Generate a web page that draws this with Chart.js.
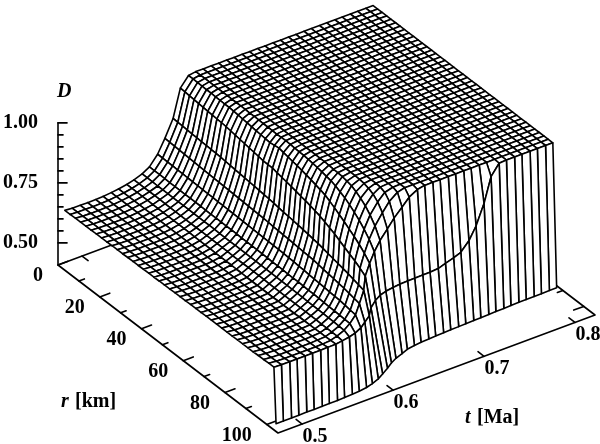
<!DOCTYPE html>
<html>
<head>
<meta charset="utf-8">
<script src="https://cdn.jsdelivr.net/npm/chart.js@4"></script>
<style>
html, body { margin: 0; padding: 0; background: #fff; }
canvas { display: block; }
</style>
</head>
<body>
<canvas id="surfaceChart" width="600" height="444"></canvas>
<script>
// Time of every grid column [Ma]
const times = [0.481,0.489,0.498,0.506,0.515,0.523,0.532,0.540,0.549,0.557,0.566,0.574,0.583,0.591,0.600,0.608,0.617,0.625,0.633,0.642,0.650,0.659,0.667,0.676,0.684,0.693,0.701,0.710,0.718,0.727,0.735,0.744,0.752,0.761,0.769,0.778,0.786,0.795,0.803,0.812,0.820];

// Radius where the outer wall meets the floor, one per column [km]
const baseRadius = [101.2,101.2,101.2,101.2,101.1,101.1,101.1,101,101,100.9,100.7,100.5,100.1,99.4,98.3,96.9,95.3,93.7,92.4,91.4,90.4,89.9,89.6,89.4,89.2,89.1,89,88.9,88.8,88.7,88.6,88.5,88.4,88.3,88.2,88.1,88.1,88,88,87.9,87.9];

// D x 1000, one row per radial shell (centre first). Columns past the end of a row sit on the plateau, D = 1
const surfaceD = [
[625,623,622,622,622,624,627,631,637,645,657,675,715,770,840,955,995],
[625,623,622,622,622,624,627,631,637,645,657,675,715,769,839,954,995],
[626,623,622,622,622,624,627,631,637,645,657,675,714,768,838,952,994],
[626,624,623,623,623,624,627,631,637,645,656,675,714,767,837,951,994],
[626,624,623,623,623,624,627,631,637,645,656,674,713,766,836,949,993],
[626,624,623,623,623,624,627,631,636,645,656,674,713,765,835,948,993],
[627,625,624,624,624,625,627,631,636,644,656,674,712,764,834,946,992],
[627,625,624,624,624,625,627,631,636,644,656,674,712,763,833,945,992],
[627,625,624,624,624,625,627,630,636,644,656,674,711,762,832,943,991],
[628,626,625,625,625,625,627,630,636,644,656,674,711,761,831,942,991],
[628,626,625,625,625,625,627,630,636,644,656,674,710,760,830,940,990],
[628,626,625,625,625,625,627,630,636,644,656,673,710,759,828,937,988],
[629,627,626,626,626,626,627,630,636,644,656,673,709,758,826,934,986,999],
[629,627,626,626,626,626,627,630,635,644,656,673,709,757,824,931,984,999],
[629,627,626,626,626,626,628,630,635,644,656,673,708,756,822,928,982,999],
[630,628,627,627,627,627,628,630,635,644,655,673,708,755,820,925,980,998],
[630,628,627,627,627,627,628,630,635,644,655,673,707,754,818,922,978,998],
[630,628,627,627,627,627,628,630,634,644,655,673,707,753,816,919,976,997],
[631,629,628,628,628,628,628,630,634,644,655,672,706,752,814,916,974,997],
[631,629,628,628,628,628,628,630,634,643,655,672,706,751,812,915,977,998],
[631,629,628,628,628,628,628,630,634,643,655,672,705,750,810,915,980,998],
[632,630,629,629,629,629,629,630,633,643,655,672,704,749,807,910,976,997],
[632,630,629,629,629,629,629,630,633,643,655,671,704,747,804,906,972,996],
[632,630,629,629,629,629,629,630,632,643,654,671,703,746,801,902,968,995],
[633,631,630,630,630,630,630,630,632,643,654,670,703,744,799,898,965,994],
[633,631,630,630,630,630,630,631,632,643,654,670,702,743,796,893,960,992],
[633,631,630,630,630,630,630,631,632,642,654,670,701,741,793,888,955,990],
[634,632,631,631,631,631,631,631,632,642,654,669,700,740,790,884,950,987],
[634,632,631,631,631,631,631,631,632,642,653,669,698,738,787,878,944,983,998],
[634,632,631,631,631,631,631,632,633,642,653,669,697,737,783,872,938,979,997],
[634,632,631,631,631,631,631,632,633,642,653,668,695,735,780,866,931,975,996],
[634,632,631,631,631,631,631,632,633,642,653,667,693,732,775,857,920,968,994],
[634,632,631,631,631,631,631,632,633,641,652,667,692,728,770,848,908,958,990],
[635,633,632,632,632,632,632,632,634,641,652,666,690,725,765,838,895,948,985,999],
[635,633,632,632,632,632,632,633,634,641,651,665,688,722,760,826,881,934,975,996],
[635,633,632,632,632,632,632,633,634,641,651,664,687,718,755,814,866,918,962,990],
[635,633,632,632,632,632,632,633,634,640,650,663,685,715,750,802,851,900,945,980,998],
[636,634,633,633,633,633,633,634,635,640,650,662,682,710,743,790,834,878,922,962,990,999],
[636,634,633,633,633,633,633,634,635,640,649,661,678,705,737,776,813,852,892,932,967,992],
[637,635,634,634,634,634,634,634,636,640,648,660,675,700,730,760,788,817,848,880,913,945,975,994],
[637,637,637,637,637,637,637,637,637,637,637,637,638,640,642,646,652,655,655,655,655,655,655,655,655,658,668,678,690,725,775,855,955,998]
];

const dTicks = [1,0.95,0.9,0.85,0.8,0.75,0.7,0.65,0.6,0.55,0.5];
const dLabels = [1,0.75,0.5];
const rTicks = [0,10,20,30,40,50,60,70,80,90,100];
const rLabels = [0,20,40,60,80,100];
const tLabels = [0.5,0.6,0.7,0.8];

// box of the plot and how it sits on the page
const rMax = 105.4, tMin = 0.4735, tMax = 0.822, dFloor = 0.408, dBase = 0.63, rStart = 100.4;

function project(r, t, d) {
    const f = (t - tMin) / (tMax - tMin);
    return {
        x: 58 + r * 220 / rMax + f * 317,
        y: 265 + r * 168 / rMax - f * 118 - (d - dFloor) * 240
    };
}

function dAt(i, j) {
    const v = surfaceD[i][j];
    return v === undefined ? 1 : v / 1000;
}

// shells keep their mass, so a denser shell takes less radius
function shellRadii(j) {
    const out = [0];
    let sum = 0;
    for (let k = 1; k < surfaceD.length; k++) {
        const dm = k * k * k - (k - 1) * (k - 1) * (k - 1);
        sum += dm * dBase / ((dAt(k - 1, j) + dAt(k, j)) / 2);
        out.push(rStart / (surfaceD.length - 1) * Math.cbrt(sum));
    }
    return out;
}

const drawList = [];
function addLine(points, opaque) {
    drawList.push({
        data: points,
        opaque: opaque,
        showLine: true,
        borderColor: '#000',
        borderWidth: 1.6,
        borderJoinStyle: 'round',
        borderCapStyle: 'round',
        // a dash longer than any segment keeps chart.js off its x-sorted fast path
        borderDash: [2000, 1],
        pointRadius: 0,
        clip: false
    });
}

// axes first, they stay behind the surface
addLine([project(0, tMin, dFloor), project(rMax, tMin, dFloor), project(rMax, tMax, dFloor), project(0, tMax, dFloor), project(0, tMin, dFloor)], false);
const axisFoot = project(0, tMin, dFloor);
addLine([axisFoot, project(0, tMin, 1)], false);
dTicks.forEach(d => {
    const p = project(0, tMin, d);
    addLine([p, { x: p.x + (dLabels.includes(d) ? 9 : 5), y: p.y }], false);
});
rTicks.forEach(r => {
    const major = r % 20 === 0;
    const a = project(r, tMin, dFloor);
    const b = project(r, tMax, dFloor);
    const dx = major ? 10 : 5.5, dy = major ? 3.7 : 2;
    addLine([a, { x: a.x + dx, y: a.y - dy }], false);
    addLine([b, { x: b.x - dx, y: b.y + dy }], false);
});
tLabels.forEach(t => {
    const a = project(rMax, t, dFloor);
    const b = project(0, t, dFloor);
    addLine([a, { x: a.x - 6, y: a.y - 4.6 }], false);
    addLine([b, { x: b.x + 6, y: b.y + 4.6 }], false);
});

// surface cells, farthest first (low r, high t)
const radii = times.map((t, j) => shellRadii(j));
const corner = (i, j) => project(radii[j][i], times[j], dAt(i, j));
for (let i = 0; i < surfaceD.length - 1; i++) {
    for (let j = times.length - 2; j >= 0; j--) {
        addLine([corner(i, j), corner(i, j + 1), corner(i + 1, j + 1), corner(i + 1, j), corner(i, j)], true);
    }
}

// outer wall down to the floor
const lastRow = surfaceD.length - 1;
for (let j = times.length - 2; j >= 0; j--) {
    const a = corner(lastRow, j), b = corner(lastRow, j + 1);
    const c = project(baseRadius[j + 1], times[j + 1], dFloor), e = project(baseRadius[j], times[j], dFloor);
    addLine([a, b, c, e, a], true);
}

// chart.js paints dataset 0 last
drawList.reverse();

// white-out behind each cell so it hides what lies behind it
const hiddenLine = {
    id: 'hiddenLine',
    beforeDatasetDraw(chart, args) {
        if (!chart.data.datasets[args.index].opaque) return;
        const pts = args.meta.data, ctx = chart.ctx;
        ctx.save();
        ctx.fillStyle = '#fff';
        ctx.beginPath();
        pts.forEach((p, n) => n ? ctx.lineTo(p.x, p.y) : ctx.moveTo(p.x, p.y));
        ctx.closePath();
        ctx.fill();
        ctx.restore();
    }
};

const numFont = 'bold 20px "Liberation Serif"';
const italicFont = 'italic bold 20px "Liberation Serif"';

const axisText = {
    id: 'axisText',
    afterDraw(chart) {
        const ctx = chart.ctx;
        const sx = chart.scales.x, sy = chart.scales.y;
        const put = (text, x, y, align, font) => {
            ctx.font = font || numFont;
            ctx.textAlign = align;
            ctx.textBaseline = 'middle';
            ctx.fillText(text, sx.getPixelForValue(x), sy.getPixelForValue(y));
        };
        ctx.save();
        ctx.fillStyle = '#000';
        dLabels.forEach(d => {
            const p = project(0, tMin, d);
            put(d.toFixed(2), p.x - 20, p.y, 'right');
        });
        rLabels.forEach(r => {
            const p = project(r, tMin, dFloor);
            put(String(r), p.x - 15, p.y + 11, 'right');
        });
        tLabels.forEach(t => {
            const p = project(rMax, t, dFloor);
            put(t.toFixed(1), p.x + 13, p.y + 12.5, 'center');
        });
        put('D', 57, 92, 'left', italicFont);
        put('r', 61, 402, 'left', italicFont);
        put('[km]', 75, 402, 'left');
        put('t', 465, 418, 'left', italicFont);
        put('[Ma]', 477, 418, 'left');
        ctx.restore();
    }
};

new Chart(document.getElementById('surfaceChart'), {
    type: 'scatter',
    data: { datasets: drawList },
    plugins: [hiddenLine, axisText],
    options: {
        responsive: false,
        animation: false,
        parsing: false,
        normalized: true,
        events: [],
        layout: { padding: 0 },
        plugins: { legend: { display: false }, tooltip: { enabled: false }, title: { display: false } },
        scales: {
            x: { type: 'linear', min: 0, max: 600, display: false },
            y: { type: 'linear', min: 0, max: 444, reverse: true, display: false }
        }
    }
});
</script>
</body>
</html>
